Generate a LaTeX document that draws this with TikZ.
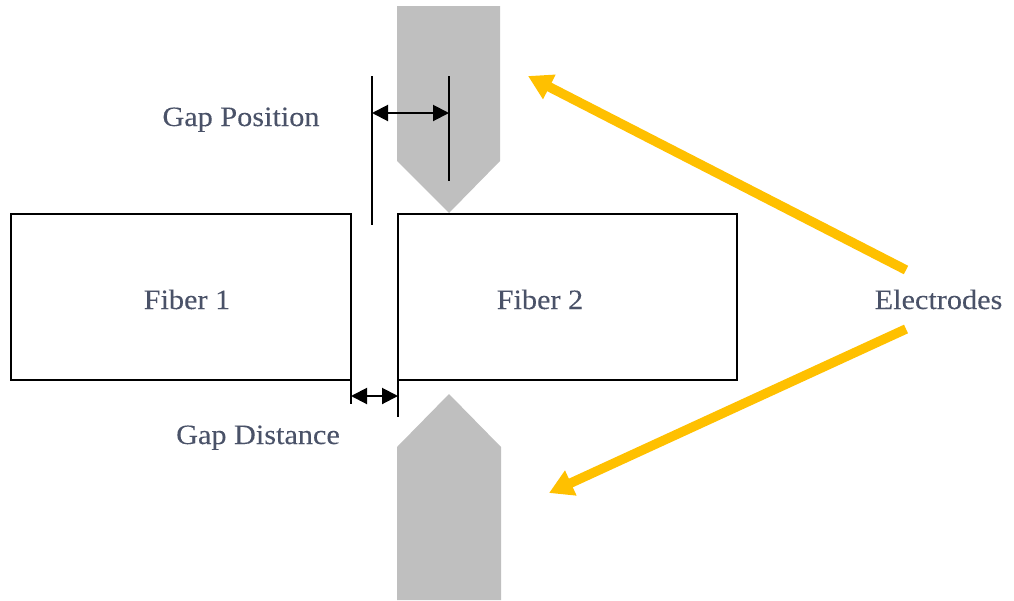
\documentclass[tikz,border=0pt]{standalone}
\usepackage{fontspec}
\setmainfont[FakeStretch=1.08,FakeBold=0.12]{Liberation Serif}
\usetikzlibrary{arrows.meta}
\definecolor{slate}{HTML}{4A5268}
\definecolor{amber}{HTML}{FFC000}
\definecolor{electrodegray}{HTML}{BFBFBF}
\tikzset{
  fiber/.style={draw=black,line width=2pt,fill=white,inner sep=0pt,outer sep=0pt,rectangle},
  lbl/.style={text=slate,font=\fontsize{28}{32}\selectfont,inner sep=0pt,anchor=base},
  electrode/.style={fill=electrodegray,draw=none},
  tick/.style={draw=black,line width=2pt},
  dim/.style={draw=black,line width=2pt,{Triangle[length=16pt,width=16pt]}-{Triangle[length=16pt,width=16pt]},shorten <=0pt,shorten >=0pt},
  callout/.style={draw=amber,line width=9.5pt,-{Triangle[length=24pt,width=26pt]}}
}
\begin{document}
\begin{tikzpicture}[x=1pt,y=-1pt]
\useasboundingbox (0,0) rectangle (1014,600);
\fill[electrode] (397,6) -- (500,6) -- (500,161) -- (449,213) -- (397,161) -- cycle;
\fill[electrode] (449,394) -- (501,447) -- (501,600) -- (397,600) -- (397,447) -- cycle;
\node[fiber,minimum width=340pt,minimum height=166pt] (fiberone) at (181,297) {};
\node[fiber,minimum width=339pt,minimum height=166pt] (fibertwo) at (567.5,297) {};
\node[lbl] (fiberonetext) at (187,309) {Fiber 1};
\node[lbl] (fibertwotext) at (540,309) {Fiber 2};
\node[lbl] (gappos) at (241,126) {Gap Position};
\node[lbl] (gapdist) at (258,444) {Gap Distance};
\node[lbl] (electrodes) at (938.5,309) {Electrodes};
\coordinate (pa) at (372,76);
\coordinate (pb) at (372,225);
\coordinate (pc) at (449,76);
\coordinate (pd) at (449,181);
\coordinate (pl) at (372,113);
\coordinate (pr) at (449,113);
\draw[tick] (pa) -- (pb);
\draw[tick] (pc) -- (pd);
\draw[dim] (pl) -- (pr);
\coordinate (da) at (351,380);
\coordinate (db) at (351,404);
\coordinate (dc) at (398,380);
\coordinate (dd) at (398,417);
\coordinate (dl) at (351,396);
\coordinate (dr) at (398,396);
\draw[tick] (da) -- (db);
\draw[tick] (dc) -- (dd);
\draw[dim] (dl) -- (dr);
\coordinate (ua) at (906,270);
\coordinate (ub) at (528,76);
\coordinate (la) at (906,329);
\coordinate (lb) at (549,493);
\draw[callout] (ua) -- (ub);
\draw[callout] (la) -- (lb);
\end{tikzpicture}
\end{document}
